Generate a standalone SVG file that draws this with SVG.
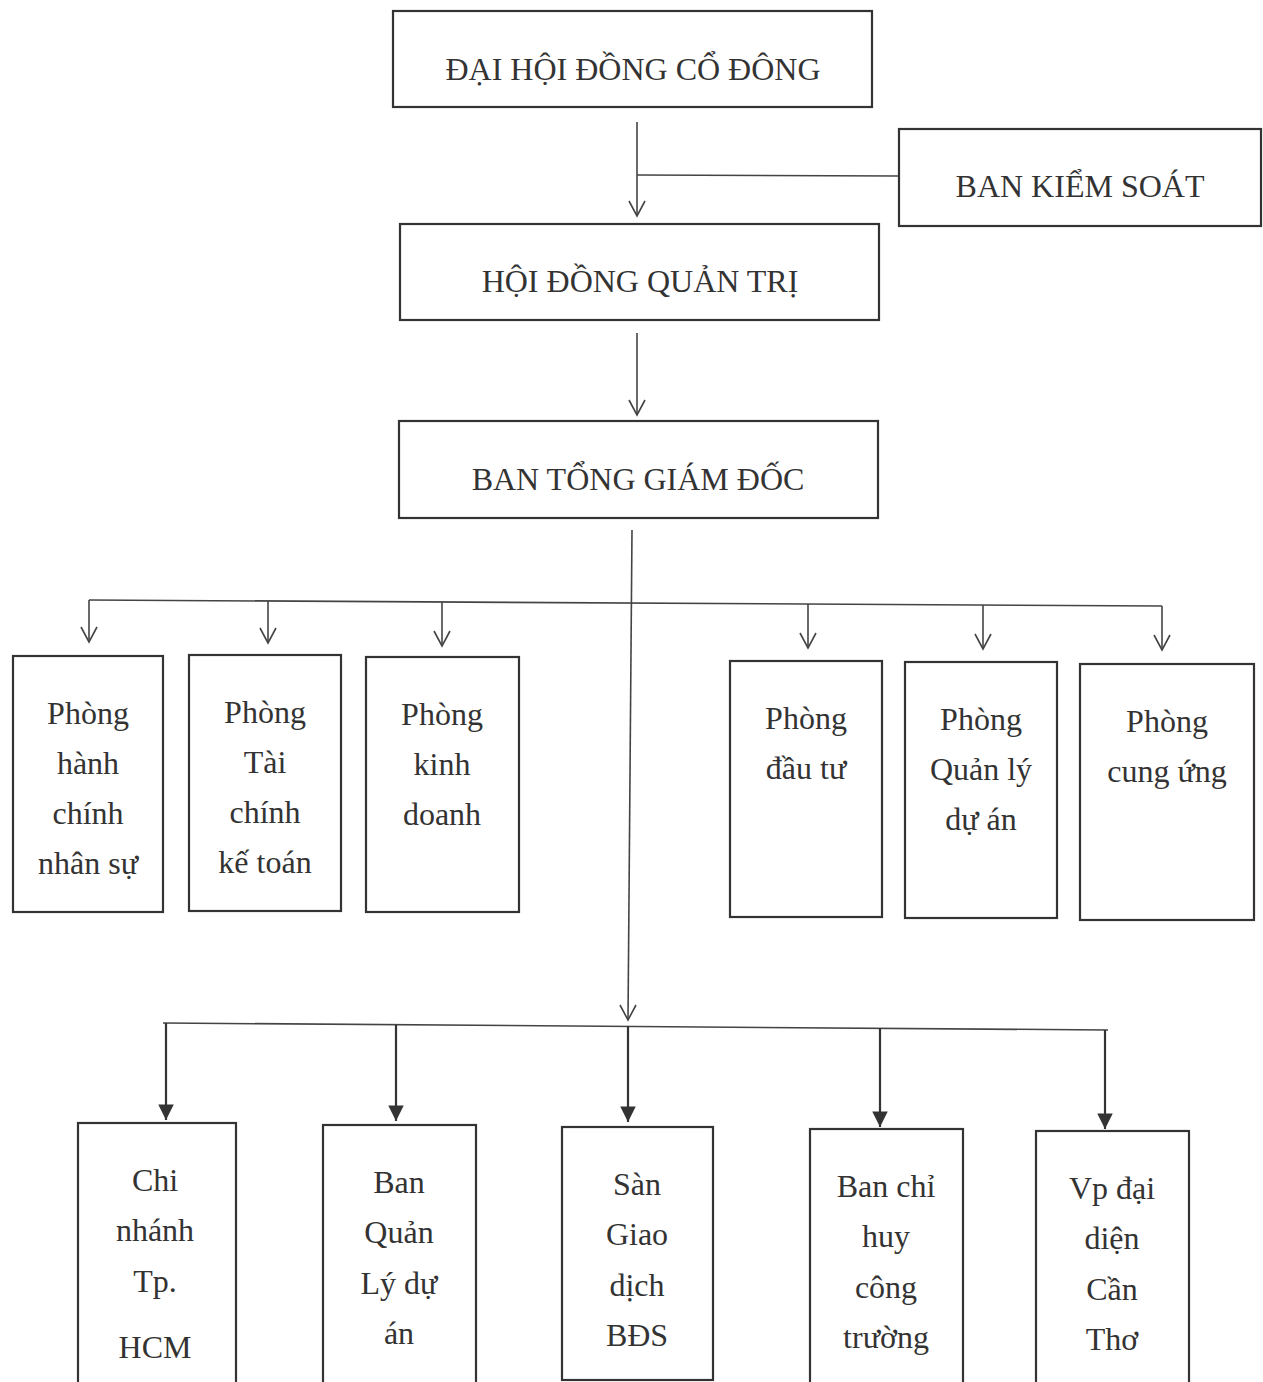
<svg xmlns="http://www.w3.org/2000/svg" width="1263" height="1382" viewBox="0 0 1263 1382">
<style>
.box{fill:#fff;stroke:#333;stroke-width:2.2}
.t{font-family:"Liberation Serif","Times New Roman",serif;font-size:32px;fill:#333;text-anchor:middle}
.h{font-family:"Liberation Serif","Times New Roman",serif;font-size:32px;fill:#333;text-anchor:middle}
.ln{stroke:#444;stroke-width:1.6;fill:none}
.lb{stroke:#333;stroke-width:2.2;fill:none}
</style>
<defs>
<marker id="open" markerWidth="20" markerHeight="20" refX="10" refY="18" markerUnits="userSpaceOnUse" viewBox="0 0 20 20">
<path d="M2 3 L10 18 L18 3" fill="none" stroke="#444" stroke-width="1.6"/>
</marker>
<marker id="fill" markerWidth="20" markerHeight="20" refX="8" refY="16" markerUnits="userSpaceOnUse" viewBox="0 0 16 18">
<path d="M1 2 L15 2 L8 16 Z" fill="#333"/>
</marker>
</defs>
<rect width="1263" height="1382" fill="#fff"/>
<g id="connectors">
<line class="ln" x1="637" y1="122" x2="637" y2="216" marker-end="url(#open)"/>
<line class="ln" x1="637" y1="175" x2="899" y2="176"/>
<line class="ln" x1="637" y1="333" x2="637" y2="415" marker-end="url(#open)"/>
<line class="ln" x1="632" y1="530" x2="628" y2="1020" marker-end="url(#open)"/>
<line class="ln" x1="89" y1="600" x2="1162" y2="606"/>
<line class="ln" x1="89" y1="600" x2="89" y2="642" marker-end="url(#open)"/>
<line class="ln" x1="268" y1="601" x2="268" y2="643" marker-end="url(#open)"/>
<line class="ln" x1="442" y1="602" x2="442" y2="646" marker-end="url(#open)"/>
<line class="ln" x1="808" y1="604" x2="808" y2="648" marker-end="url(#open)"/>
<line class="ln" x1="983" y1="605" x2="983" y2="649" marker-end="url(#open)"/>
<line class="ln" x1="1162" y1="606" x2="1162" y2="650" marker-end="url(#open)"/>
<line class="ln" x1="163" y1="1023" x2="1108" y2="1030"/>
<line class="lb" x1="166" y1="1023" x2="166" y2="1120" marker-end="url(#fill)"/>
<line class="lb" x1="396" y1="1025" x2="396" y2="1121" marker-end="url(#fill)"/>
<line class="lb" x1="628" y1="1026" x2="628" y2="1122" marker-end="url(#fill)"/>
<line class="lb" x1="880" y1="1028" x2="880" y2="1127" marker-end="url(#fill)"/>
<line class="lb" x1="1105" y1="1030" x2="1105" y2="1129" marker-end="url(#fill)"/>
</g>
<g id="dhdcd"><rect class="box" x="393" y="11" width="479" height="96"/><text class="h" x="633" y="80">ĐẠI HỘI ĐỒNG CỔ ĐÔNG</text></g>
<g id="bks"><rect class="box" x="899" y="129" width="362" height="97"/><text class="h" x="1080" y="197">BAN KIỂM SOÁT</text></g>
<g id="hdqt"><rect class="box" x="400" y="224" width="479" height="96"/><text class="h" x="640" y="292">HỘI ĐỒNG QUẢN TRỊ</text></g>
<g id="btgd"><rect class="box" x="399" y="421" width="479" height="97"/><text class="h" x="638" y="490">BAN TỔNG GIÁM ĐỐC</text></g>
<g id="p1"><rect class="box" x="13" y="656" width="150" height="256"/><text class="t" x="88" y="724">Phòng</text><text class="t" x="88" y="774">hành</text><text class="t" x="88" y="824">chính</text><text class="t" x="88" y="874">nhân sự</text></g>
<g id="p2"><rect class="box" x="189" y="655" width="152" height="256"/><text class="t" x="265" y="723">Phòng</text><text class="t" x="265" y="773">Tài</text><text class="t" x="265" y="823">chính</text><text class="t" x="265" y="873">kế toán</text></g>
<g id="p3"><rect class="box" x="366" y="657" width="153" height="255"/><text class="t" x="442" y="725">Phòng</text><text class="t" x="442" y="775">kinh</text><text class="t" x="442" y="825">doanh</text></g>
<g id="p4"><rect class="box" x="730" y="661" width="152" height="256"/><text class="t" x="806" y="729">Phòng</text><text class="t" x="806" y="779">đầu tư</text></g>
<g id="p5"><rect class="box" x="905" y="662" width="152" height="256"/><text class="t" x="981" y="730">Phòng</text><text class="t" x="981" y="780">Quản lý</text><text class="t" x="981" y="830">dự án</text></g>
<g id="p6"><rect class="box" x="1080" y="664" width="174" height="256"/><text class="t" x="1167" y="732">Phòng</text><text class="t" x="1167" y="782">cung ứng</text></g>
<g id="b1"><rect class="box" x="78" y="1123" width="158" height="280"/><text class="t" x="155" y="1191">Chi</text><text class="t" x="155" y="1241">nhánh</text><text class="t" x="155" y="1292">Tp.</text><text class="t" x="155" y="1358">HCM</text></g>
<g id="b2"><rect class="box" x="323" y="1125" width="153" height="280"/><text class="t" x="399" y="1193">Ban</text><text class="t" x="399" y="1243">Quản</text><text class="t" x="399" y="1294">Lý dự</text><text class="t" x="399" y="1344">án</text></g>
<g id="b3"><rect class="box" x="562" y="1127" width="151" height="253"/><text class="t" x="637" y="1195">Sàn</text><text class="t" x="637" y="1245">Giao</text><text class="t" x="637" y="1296">dịch</text><text class="t" x="637" y="1346">BĐS</text></g>
<g id="b4"><rect class="box" x="810" y="1129" width="153" height="280"/><text class="t" x="886" y="1197">Ban chỉ</text><text class="t" x="886" y="1247">huy</text><text class="t" x="886" y="1298">công</text><text class="t" x="886" y="1348">trường</text></g>
<g id="b5"><rect class="box" x="1036" y="1131" width="153" height="280"/><text class="t" x="1112" y="1199">Vp đại</text><text class="t" x="1112" y="1249">diện</text><text class="t" x="1112" y="1300">Cần</text><text class="t" x="1112" y="1350">Thơ</text></g>
</svg>
